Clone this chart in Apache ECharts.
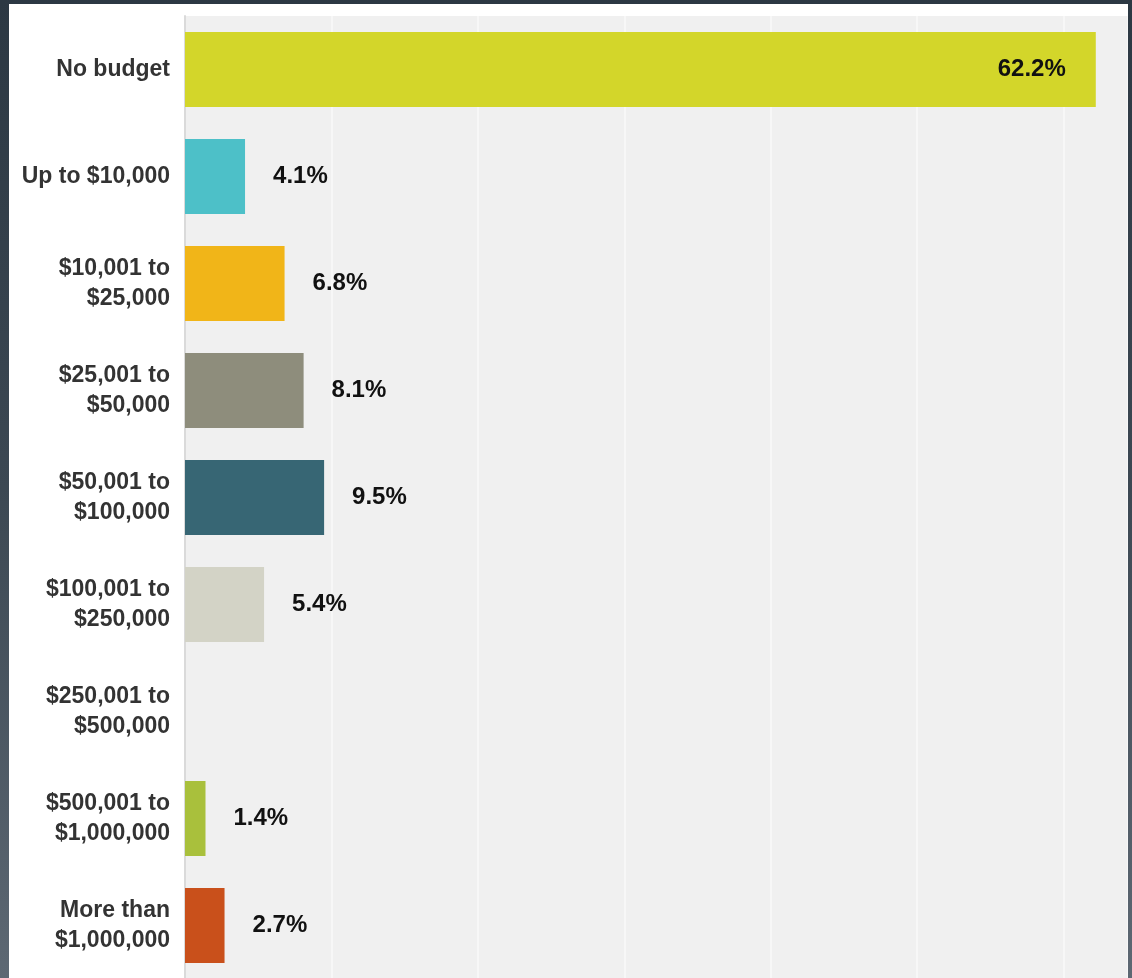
<!DOCTYPE html>
<html>
<head>
<meta charset="utf-8">
<script src="https://cdn.jsdelivr.net/npm/echarts@6/dist/echarts.min.js"></script>
<style>
  html, body { margin: 0; padding: 0; width: 1132px; height: 978px; overflow: hidden; }
  body { background: linear-gradient(180deg, #2c3843 0%, #3c4853 50%, #5d6873 100%); }
  #chart { position: absolute; left: 9px; top: 4px; width: 1119px; height: 978px; background: #ffffff; }
</style>
</head>
<body>
<div id="chart"></div>
<script>
// budget ranges and share of respondents (%)
var categories = [
  'No budget',
  'Up to $10,000',
  '$10,001 to\n$25,000',
  '$25,001 to\n$50,000',
  '$50,001 to\n$100,000',
  '$100,001 to\n$250,000',
  '$250,001 to\n$500,000',
  '$500,001 to\n$1,000,000',
  'More than\n$1,000,000'
];
var shares = [62.2, 4.1, 6.8, 8.1, 9.5, 5.4, 0, 1.4, 2.7];
var barColors = ['#d3d62a', '#4dc0c8', '#f1b518', '#8e8d7c', '#376674', '#d3d3c6', '#cccccc', '#a9c03c', '#c9501b'];

var myChart = echarts.init(document.getElementById('chart'));

var option = {
  animation: false,
  grid: {
    left: 176,
    top: 12,
    right: 0,
    bottom: 3,
    show: true,
    backgroundColor: '#f0f0f0',
    borderWidth: 0
  },
  xAxis: {
    type: 'value',
    min: 0,
    max: 64.4,
    interval: 10,
    axisLabel: { show: false },
    axisTick: { show: false },
    axisLine: { show: true, lineStyle: { color: '#e0e0e0', width: 1 } },
    splitLine: { show: true, lineStyle: { color: '#f7f7f7', width: 2 } }
  },
  yAxis: {
    type: 'category',
    inverse: true,
    data: categories,
    axisTick: { show: false },
    axisLine: { show: true, lineStyle: { color: '#dadada', width: 2 } },
    axisLabel: {
      margin: 15,
      fontFamily: 'Liberation Sans, Arial, sans-serif',
      fontWeight: 'bold',
      fontSize: 23,
      lineHeight: 30,
      color: '#333333',
      align: 'right'
    }
  },
  series: [
    {
      type: 'bar',
      data: shares,
      barCategoryGap: '30%',
      itemStyle: {
        color: function (p) { return barColors[p.dataIndex]; }
      },
      label: {
        show: true,
        position: 'right',
        distance: 28,
        fontFamily: 'Liberation Sans, Arial, sans-serif',
        fontWeight: 'bold',
        fontSize: 24,
        color: '#111111',
        formatter: function (p) {
          return p.value > 0 ? p.value.toFixed(1) + '%' : '';
        }
      }
    }
  ]
};

// the biggest bar carries its label inside
option.series[0].data = shares.map(function (v, i) {
  if (v > 50) {
    return { value: v, label: { position: 'insideRight', distance: 30 } };
  }
  return v;
});

myChart.setOption(option);
</script>
</body>
</html>
